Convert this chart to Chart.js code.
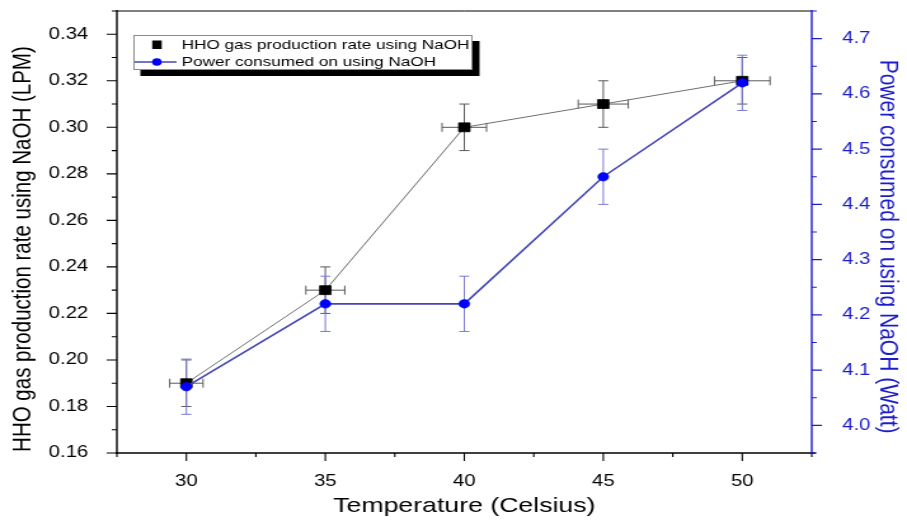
<!DOCTYPE html>
<html><head><meta charset="utf-8">
<script src="https://cdn.jsdelivr.net/npm/chart.js@4/dist/chart.umd.min.js"></script>
<style>html,body{margin:0;padding:0;background:#fff;overflow:hidden}</style>
</head><body>
<canvas id="c" width="714" height="524" style="display:block;width:907px;height:524px"></canvas>
<script>
// ---- data ----
const temperatures = [30, 35, 40, 45, 50];
const temperatureErr = [0.6, 0.7, 0.8, 0.9, 1.0];
const hhoRate = [0.19, 0.23, 0.30, 0.31, 0.32];
const hhoRateErr = [0.01, 0.01, 0.01, 0.01, 0.01];
const powerWatt = [4.07, 4.22, 4.22, 4.45, 4.62];
const powerErr = [0.05, 0.05, 0.05, 0.05, 0.05];
const seriesNames = ['HHO gas production rate using NaOH', 'Power consumed on using NaOH'];
const xTitle = 'Temperature (Celsius)';
const leftTitle = 'HHO gas production rate using NaOH (LPM)';
const rightTitle = 'Power consumed on using NaOH (Watt)';
const xTicks = [30, 35, 40, 45, 50];
const xMinorTicks = [27.5, 32.5, 37.5, 42.5, 47.5, 52.5];
const leftTicks = [0.16, 0.18, 0.20, 0.22, 0.24, 0.26, 0.28, 0.30, 0.32, 0.34];
const leftMinorTicks = [0.17, 0.19, 0.21, 0.23, 0.25, 0.27, 0.29, 0.31, 0.33, 0.35];
const rightTicks = [4.0, 4.1, 4.2, 4.3, 4.4, 4.5, 4.6, 4.7];
const rightMinorTicks = [3.95, 4.05, 4.15, 4.25, 4.35, 4.45, 4.55, 4.65, 4.75];

const FONT = "'Liberation Sans', Arial, sans-serif";
Chart.defaults.font.family = FONT;
const BLUE_AX = '#1c1cc8';

const errorBars = {
  id: 'errorBars',
  beforeDatasetsDraw(chart) {
    const ctx = chart.ctx;
    const xs = chart.scales.x;
    const specs = [
      {y: chart.scales.y, vals: hhoRate, ey: hhoRateErr, ex: temperatureErr, color: '#5a5a5a'},
      {y: chart.scales.y1, vals: powerWatt, ey: powerErr, ex: null, color: '#7a7ad2'}
    ];
    ctx.save();
    ctx.lineWidth = 1;
    specs.forEach(s => {
      ctx.strokeStyle = s.color;
      temperatures.forEach((t, i) => {
        const px = xs.getPixelForValue(t);
        const py = s.y.getPixelForValue(s.vals[i]);
        const y1 = s.y.getPixelForValue(s.vals[i] + s.ey[i]);
        const y2 = s.y.getPixelForValue(s.vals[i] - s.ey[i]);
        ctx.beginPath();
        ctx.moveTo(px, y1); ctx.lineTo(px, y2);
        ctx.moveTo(px - 4, y1); ctx.lineTo(px + 4, y1);
        ctx.moveTo(px - 4, y2); ctx.lineTo(px + 4, y2);
        if (s.ex) {
          const x1 = xs.getPixelForValue(t - s.ex[i]);
          const x2 = xs.getPixelForValue(t + s.ex[i]);
          ctx.moveTo(x1, py); ctx.lineTo(x2, py);
          ctx.moveTo(x1, py - 4.5); ctx.lineTo(x1, py + 4.5);
          ctx.moveTo(x2, py - 4.5); ctx.lineTo(x2, py + 4.5);
        }
        ctx.stroke();
      });
    });
    ctx.restore();
  }
};

const axesFrame = {
  id: 'axesFrame',
  afterDraw(chart) {
    const ctx = chart.ctx;
    const a = chart.chartArea;
    const xs = chart.scales.x, yl = chart.scales.y, yr = chart.scales.y1;
    ctx.save();
    ctx.lineWidth = 1.4;
    ctx.strokeStyle = '#000';
    ctx.beginPath();
    ctx.moveTo(a.left - 1, a.bottom); ctx.lineTo(a.right + 3, a.bottom);
    ctx.moveTo(a.left, a.bottom + 1); ctx.lineTo(a.left, a.top - 1);
    ctx.stroke();
    ctx.lineWidth = 1;
    ctx.beginPath();
    ctx.moveTo(a.left, a.top); ctx.lineTo(a.right, a.top);
    ctx.stroke();
    ctx.lineWidth = 1.4;
    ctx.strokeStyle = BLUE_AX;
    ctx.beginPath();
    ctx.moveTo(a.right, a.bottom); ctx.lineTo(a.right, a.top - 1);
    ctx.stroke();
    ctx.lineWidth = 1.1;
    ctx.strokeStyle = '#000';
    ctx.beginPath();
    xTicks.forEach(v => { const p = xs.getPixelForValue(v); ctx.moveTo(p, a.bottom); ctx.lineTo(p, a.bottom + 8); });
    xMinorTicks.forEach(v => { const p = xs.getPixelForValue(v); ctx.moveTo(p, a.bottom); ctx.lineTo(p, a.bottom + 4); });
    leftTicks.forEach(v => { const p = yl.getPixelForValue(v); ctx.moveTo(a.left, p); ctx.lineTo(a.left - 8, p); });
    leftMinorTicks.forEach(v => { const p = yl.getPixelForValue(v); ctx.moveTo(a.left, p); ctx.lineTo(a.left - 4, p); });
    ctx.stroke();
    ctx.strokeStyle = BLUE_AX;
    ctx.beginPath();
    rightTicks.forEach(v => { const p = yr.getPixelForValue(v); ctx.moveTo(a.right, p); ctx.lineTo(a.right + 8, p); });
    rightMinorTicks.forEach(v => { const p = yr.getPixelForValue(v); ctx.moveTo(a.right, p); ctx.lineTo(a.right + 4, p); });
    ctx.stroke();
    ctx.restore();
  }
};

const boxLegend = {
  id: 'boxLegend',
  afterDraw(chart) {
    const ctx = chart.ctx;
    const bx = 105, by = 35, bw = 267, bh = 35;
    ctx.save();
    ctx.fillStyle = '#000';
    ctx.fillRect(bx + 5.5, by + 6, bw, bh);
    ctx.fillStyle = '#fff';
    ctx.fillRect(bx, by, bw, bh);
    ctx.strokeStyle = '#8a8a8a';
    ctx.lineWidth = 1;
    ctx.strokeRect(bx + 0.5, by + 0.5, bw - 1, bh - 1);
    ctx.fillStyle = '#000';
    ctx.fillRect(119.8, 40.5, 7.5, 8.5);
    ctx.strokeStyle = '#4646b4';
    ctx.lineWidth = 1.6;
    ctx.beginPath(); ctx.moveTo(106, 62); ctx.lineTo(139, 62); ctx.stroke();
    ctx.fillStyle = '#0000ff';
    ctx.beginPath(); ctx.arc(123.5, 62, 3.8, 0, Math.PI * 2); ctx.fill();
    ctx.fillStyle = '#000';
    ctx.font = '13.5px ' + FONT;
    ctx.textBaseline = 'middle';
    ctx.textAlign = 'left';
    ctx.fillText(seriesNames[0], 143, 45);
    ctx.fillText(seriesNames[1], 143, 62);
    ctx.restore();
  }
};

const setTicks = arr => scale => { scale.ticks = arr.map(v => ({value: v})); };
const fitV = w => s => { s.width = w; s.paddingTop = 0; s.paddingBottom = 0; };

new Chart(document.getElementById('c'), {
  type: 'line',
  data: {
    datasets: [
      {
        label: seriesNames[1],
        data: temperatures.map((t, i) => ({x: t, y: powerWatt[i]})),
        yAxisID: 'y1', order: 0,
        borderColor: '#4646b4', borderWidth: 1.6, tension: 0,
        pointStyle: 'circle', pointRadius: 4.3,
        pointBackgroundColor: '#0000ff', pointBorderColor: '#0000ff', pointBorderWidth: 0.5
      },
      {
        label: seriesNames[0],
        data: temperatures.map((t, i) => ({x: t, y: hhoRate[i]})),
        yAxisID: 'y', order: 1,
        borderColor: '#6e6e6e', borderWidth: 1, tension: 0,
        pointStyle: 'rect', pointRadius: 6.3,
        pointBackgroundColor: '#000', pointBorderColor: '#000', pointBorderWidth: 0.8
      }
    ]
  },
  options: {
    responsive: false, animation: false, devicePixelRatio: 1,
    layout: {padding: {top: 11, left: 0, right: 0, bottom: 0}},
    plugins: {legend: {display: false}, tooltip: {enabled: false}},
    scales: {
      x: {
        type: 'linear', position: 'bottom', min: 27.5, max: 52.5,
        grid: {display: false}, border: {display: false},
        afterBuildTicks: setTicks(xTicks),
        afterFit: s => { s.height = 71; s.paddingLeft = 0; s.paddingRight = 0; },
        ticks: {padding: 10.5, color: '#000', font: {size: 16}, maxRotation: 0, autoSkip: false,
                callback: v => String(v)},
        title: {display: true, text: xTitle, color: '#000', font: {size: 21}, padding: {top: 0, bottom: 5}}
      },
      y: {
        type: 'linear', position: 'left', min: 0.16, max: 0.35,
        grid: {display: false}, border: {display: false},
        afterBuildTicks: setTicks(leftTicks),
        afterFit: fitV(92),
        ticks: {padding: 14.5, color: '#000', font: {size: 16}, autoSkip: false,
                callback: v => Number(v).toFixed(2)},
        title: {display: true, text: leftTitle + '      ', color: '#000', font: {size: 20.5}, padding: {top: 6, bottom: 0}}
      },
      y1: {
        type: 'linear', position: 'right', min: 3.95, max: 4.75,
        grid: {display: false}, border: {display: false},
        afterBuildTicks: setTicks(rightTicks),
        afterFit: fitV(75),
        ticks: {padding: 16, color: BLUE_AX, font: {size: 16}, autoSkip: false,
                callback: v => Number(v).toFixed(1)},
        title: {display: true, text: '     ' + rightTitle, color: BLUE_AX, font: {size: 21}, padding: {top: 2.5, bottom: 0}}
      }
    }
  },
  plugins: [errorBars, axesFrame, boxLegend]
});
</script>
</body></html>
